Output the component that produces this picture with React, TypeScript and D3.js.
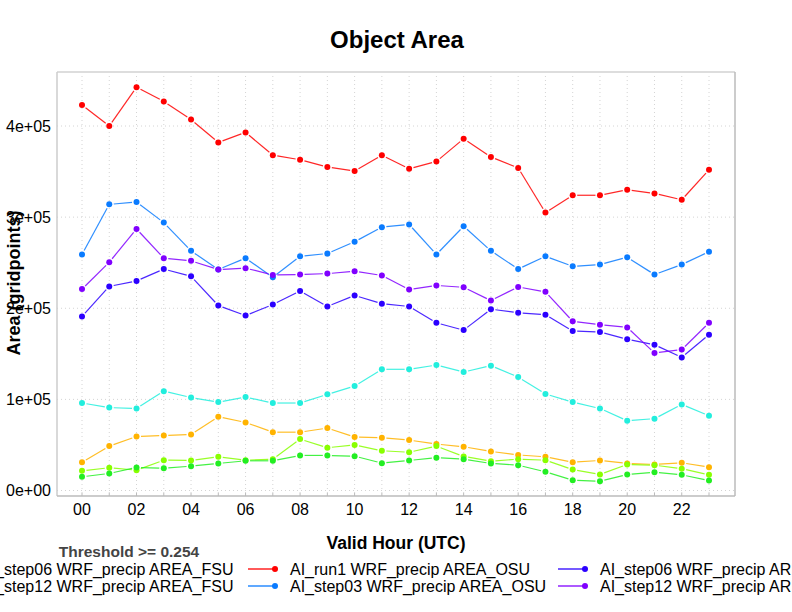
import React, { useEffect, useRef } from 'react';
import * as d3 from 'd3';

const hours = d3.range(0, 24);
const xTickLabels = ['00', '02', '04', '06', '08', '10', '12', '14', '16', '18', '20', '22'];
const yTicks = [0, 100000, 200000, 300000, 400000];
const yTickLabels = ['0e+00', '1e+05', '2e+05', '3e+05', '4e+05'];

const seriesNames = [
  'AI_run1 WRF_precip AREA_FSU',
  'AI_step03 WRF_precip AREA_FSU',
  'AI_step06 WRF_precip AREA_FSU',
  'AI_step12 WRF_precip AREA_FSU',
  'AI_run1 WRF_precip AREA_OSU',
  'AI_step03 WRF_precip AREA_OSU',
  'AI_step06 WRF_precip AREA_OSU',
  'AI_step12 WRF_precip AREA_OSU',
];
const seriesColors = ['#22eedd', '#ffb300', '#88ff00', '#22ee22', '#ff0000', '#0a7bff', '#2b00ff', '#8000ff'];

// values in gridpoints (thousands)
const run1FSU = [96, 91, 90, 109, 102, 97, 102.5, 96, 96, 105.5, 114.6, 133, 133, 137.7, 130, 137, 124.5, 106, 97, 90, 76.6, 78.8, 94.5, 82];
const step03FSU = [31, 48.7, 59.3, 60.4, 61.5, 81, 74.7, 64, 64, 68.5, 58.6, 58, 55.3, 51, 48, 42.9, 39, 37, 31, 33, 29.7, 28.6, 30.4, 25.6];
const step06FSU = [21.6, 25, 22.3, 33.3, 33, 37, 33.3, 34.4, 56.4, 47, 50, 43.6, 42, 48.7, 37.4, 32.2, 34.4, 33.3, 23, 17.6, 28.6, 27.8, 24, 17.2];
const step12FSU = [15, 18.7, 25.3, 24.5, 26.7, 29.7, 32.6, 32.6, 38.5, 38.5, 37.7, 30, 33, 36, 34.4, 29.7, 27.8, 20.5, 11.3, 10.2, 17.6, 20, 17.2, 11];
const run1OSU = [423, 400, 442.5, 427, 407, 382, 393, 368, 363, 355, 350.5, 368, 353, 361, 386, 366, 354, 305, 324, 324, 330, 326, 319, 352];
const step03OSU = [259, 314, 316.5, 294, 263, 242.5, 255, 234, 257, 260, 273, 289, 292, 259, 290, 263, 243, 257, 246, 248, 256, 237, 248, 262];
const step06OSU = [191, 224, 230, 243, 235, 203, 192, 204, 219, 202, 214, 205, 202, 184, 176, 199, 195, 193, 175, 174, 166, 160, 146, 171];
const step12OSU = [221, 250.5, 287, 255, 252, 242.5, 244, 236.6, 237, 238, 240.6, 236, 220.5, 225, 223, 208.4, 223.4, 218, 185.7, 182, 179, 151, 154.6, 184];

const seriesValues = [run1FSU, step03FSU, step06FSU, step12FSU, run1OSU, step03OSU, step06OSU, step12OSU];

const W = 792;
const H = 612;
const FONT = '"Liberation Sans", Arial, Helvetica, sans-serif';

const App: React.FC = () => {
  const svgRef = useRef<SVGSVGElement>(null);

  useEffect(() => {
    if (!svgRef.current) return;
    const svg = d3.select(svgRef.current);
    svg.selectAll('*').remove();

    const left = 57, right = 735, top = 72, bottom = 496;

    const x = d3.scaleLinear().domain([0, 23]).range([82, 709]);
    const y = d3.scaleLinear().domain([0, 400000]).range([490.5, 126]);

    svg.append('rect').attr('width', W).attr('height', H).attr('fill', '#fff');

    // grid
    const grid = svg.append('g').attr('stroke', '#d4d4d4').attr('stroke-dasharray', '1,3');
    hours.forEach(h => {
      grid.append('line').attr('x1', x(h)).attr('x2', x(h)).attr('y1', top).attr('y2', bottom);
    });
    yTicks.forEach(t => {
      grid.append('line').attr('x1', left).attr('x2', right).attr('y1', y(t)).attr('y2', y(t));
    });

    // frame
    svg.append('line').attr('x1', left).attr('x2', right).attr('y1', top).attr('y2', top)
      .attr('stroke', '#dddddd').attr('stroke-width', 2);
    svg.append('line').attr('x1', left).attr('x2', left).attr('y1', top).attr('y2', bottom)
      .attr('stroke', '#cccccc').attr('stroke-width', 1.5);
    svg.append('line').attr('x1', right).attr('x2', right).attr('y1', top).attr('y2', bottom)
      .attr('stroke', '#bbbbbb').attr('stroke-width', 1.5);
    svg.append('line').attr('x1', left).attr('x2', right).attr('y1', bottom).attr('y2', bottom)
      .attr('stroke', '#bbbbbb').attr('stroke-width', 1.5);

    // small ticks at bottom
    hours.forEach(h => {
      svg.append('line').attr('x1', x(h)).attr('x2', x(h)).attr('y1', bottom - 3).attr('y2', bottom)
        .attr('stroke', '#bbbbbb');
    });

    // y tick labels
    yTicks.forEach((t, i) => {
      svg.append('text').attr('x', 51).attr('y', y(t)).attr('dy', '0.36em')
        .attr('text-anchor', 'end').attr('font-family', FONT).attr('font-size', 16)
        .attr('fill', '#000').text(yTickLabels[i]);
    });

    // x tick labels
    xTickLabels.forEach((lab, i) => {
      svg.append('text').attr('x', x(i * 2)).attr('y', 515)
        .attr('text-anchor', 'middle').attr('font-family', FONT).attr('font-size', 16)
        .attr('fill', '#000').text(lab);
    });

    // series: lines with gaps around points
    const gap = 4.5;
    seriesValues.forEach((vals, si) => {
      const col = seriesColors[si];
      const g = svg.append('g');
      for (let i = 0; i < vals.length - 1; i++) {
        const x1 = x(hours[i]), y1 = y(vals[i] * 1000);
        const x2 = x(hours[i + 1]), y2 = y(vals[i + 1] * 1000);
        const len = Math.hypot(x2 - x1, y2 - y1);
        if (len <= gap * 2) continue;
        const ux = (x2 - x1) / len, uy = (y2 - y1) / len;
        g.append('line')
          .attr('x1', x1 + ux * gap).attr('y1', y1 + uy * gap)
          .attr('x2', x2 - ux * gap).attr('y2', y2 - uy * gap)
          .attr('stroke', col).attr('stroke-width', 1.2).attr('stroke-opacity', 0.85);
      }
      g.selectAll('circle').data(vals).enter().append('circle')
        .attr('cx', (_d, i) => x(hours[i]))
        .attr('cy', d => y(d * 1000))
        .attr('r', 3)
        .attr('fill', col);
    });

    // title
    svg.append('text').attr('x', 397).attr('y', 48).attr('text-anchor', 'middle')
      .attr('font-family', FONT).attr('font-size', 24).attr('font-weight', 'bold')
      .text('Object Area');

    // axis titles
    svg.append('text').attr('x', 396).attr('y', 549).attr('text-anchor', 'middle')
      .attr('font-family', FONT).attr('font-size', 17.5).attr('font-weight', 'bold')
      .text('Valid Hour (UTC)');
    svg.append('text').attr('transform', `translate(20,283) rotate(-90)`).attr('text-anchor', 'middle')
      .attr('font-family', FONT).attr('font-size', 18).attr('font-weight', 'bold')
      .text('Area (gridpoints)');

    svg.append('text').attr('x', 129).attr('y', 557).attr('text-anchor', 'middle')
      .attr('font-family', FONT).attr('font-size', 15.5).attr('font-weight', 'bold')
      .attr('fill', '#444').text('Threshold >= 0.254');

    // legend: 4 columns x 2 rows (outer columns run past the page edges, as in the original)
    const colX = [-372, -62, 248, 558];
    const rowY = [569, 586];
    seriesNames.forEach((name, i) => {
      const c = Math.floor(i / 2), r = i % 2;
      const lx = colX[c], ly = rowY[r];
      svg.append('line').attr('x1', lx).attr('x2', lx + 27).attr('y1', ly).attr('y2', ly)
        .attr('stroke', seriesColors[i]).attr('stroke-width', 1.3);
      svg.append('circle').attr('cx', lx + 27).attr('cy', ly).attr('r', 3).attr('fill', seriesColors[i]);
      svg.append('text').attr('x', lx + 42).attr('y', ly).attr('dy', '0.35em')
        .attr('font-family', FONT).attr('font-size', 16).attr('fill', '#000').text(name);
    });
  }, []);

  return (
    <svg ref={svgRef} width={W} height={H}
      style={{ position: 'absolute', left: 0, top: 0, display: 'block' }} />
  );
};

export default App;
